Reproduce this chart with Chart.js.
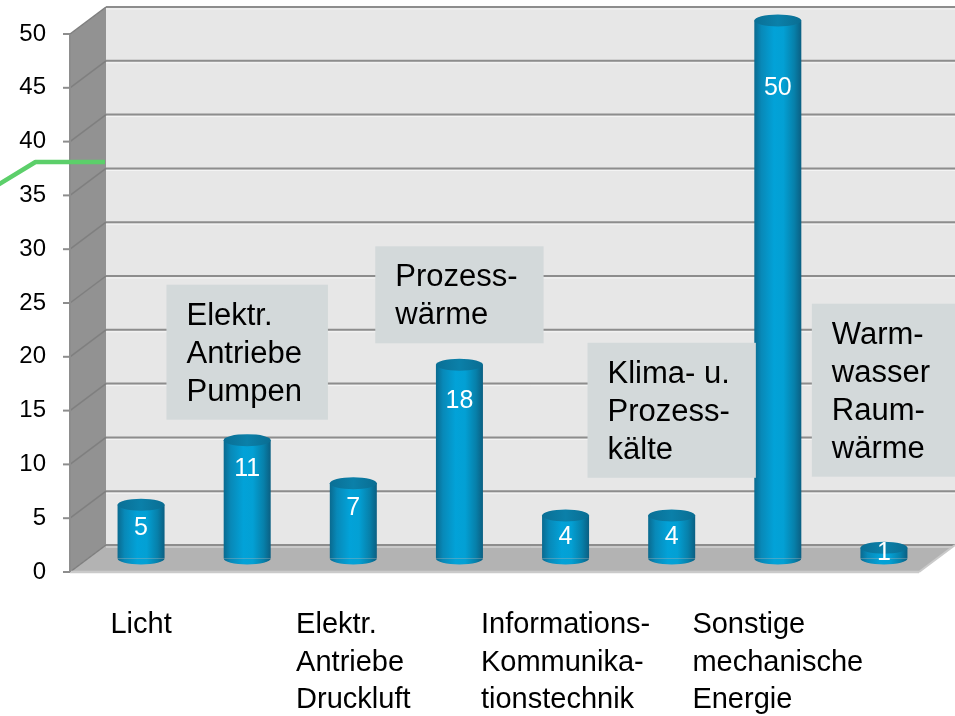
<!DOCTYPE html>
<html>
<head>
<meta charset="utf-8">
<script src="https://cdn.jsdelivr.net/npm/chart.js@4/dist/chart.umd.min.js"></script>
<style>
html,body{margin:0;padding:0;background:#ffffff;}
#wrap{width:955px;height:716px;position:relative;}
</style>
</head>
<body>
<div id="wrap"><canvas id="c" width="955" height="716"></canvas></div>
<script>
// ---------- data ----------
const categories = ['Licht', 'Elektr. Antriebe Pumpen', 'Elektr. Antriebe Druckluft', 'Prozesswärme',
  'Informations- Kommunikationstechnik', 'Klima- u. Prozesskälte', 'Sonstige mechanische Energie', 'Warmwasser Raumwärme'];
const categoryLines = [
  ['Licht'],
  ['Elektr.', 'Antriebe', 'Pumpen'],
  ['Elektr.', 'Antriebe', 'Druckluft'],
  ['Prozess-', 'wärme'],
  ['Informations-', 'Kommunika-', 'tionstechnik'],
  ['Klima- u.', 'Prozess-', 'kälte'],
  ['Sonstige', 'mechanische', 'Energie'],
  ['Warm-', 'wasser', 'Raum-', 'wärme']
];
const shares = [5, 11, 7, 18, 4, 4, 50, 1];
const labelPlacement = ['axis', 'box', 'axis', 'box', 'axis', 'box', 'axis', 'box'];
const boxBottomValues = [null, 12.9, null, 20.0, null, 7.5, null, 7.6];
const yMin = 0, yMax = 50, yStep = 5;
// stray green line at the upper left (x in category-index units, y in axis units)
const greenX = [-1.42, -0.995, -0.34];
const greenY = [34.3, 36.85, 36.85];

// ---------- styling ----------
const FONT = '"Liberation Sans", Arial, sans-serif';
const DX = 18, DY = 13.5;      // half-depth offsets of the 3D frame
const RY = 6;                  // ellipse radius of cylinder caps
const BAR_PCT = 0.443;

function poly(ctx, pts, fill) {
  ctx.beginPath();
  ctx.moveTo(pts[0][0], pts[0][1]);
  for (let i = 1; i < pts.length; i++) ctx.lineTo(pts[i][0], pts[i][1]);
  ctx.closePath();
  ctx.fillStyle = fill;
  ctx.fill();
}
function line(ctx, x1, y1, x2, y2, color, w) {
  ctx.beginPath();
  ctx.moveTo(x1, y1); ctx.lineTo(x2, y2);
  ctx.strokeStyle = color; ctx.lineWidth = w;
  ctx.stroke();
}
function cylGradient(ctx, x, w) {
  const g = ctx.createLinearGradient(x - w / 2, 0, x + w / 2, 0);
  g.addColorStop(0, '#0a6a8f');
  g.addColorStop(0.15, '#0889b8');
  g.addColorStop(0.42, '#02a2d8');
  g.addColorStop(0.62, '#03a0d4');
  g.addColorStop(0.85, '#0780aa');
  g.addColorStop(1, '#0b5f82');
  return g;
}
function barFill(c) {
  const chart = c.chart;
  const xs = chart.scales && chart.scales.x;
  if (c.type !== 'data' || !xs || !chart.chartArea) return '#03a0d5';
  const x = xs.getPixelForValue(c.dataIndex);
  const w = (xs.getPixelForValue(1) - xs.getPixelForValue(0)) * BAR_PCT;
  return cylGradient(chart.ctx, x, w);
}

const scene3d = {
  id: 'scene3d',
  beforeDraw(chart) {
    const {ctx, chartArea: a} = chart;
    const y = chart.scales.y;
    const y0 = y.getPixelForValue(yMin), yT = y.getPixelForValue(yMax);
    const fl = a.left - DX, bl = a.left + DX, fr = a.right - DX, br = a.right + DX;
    ctx.save();
    ctx.fillStyle = '#e7e7e7';
    ctx.fillRect(bl, yT - DY, br - bl, y0 - yT);
    poly(ctx, [[fl, yT + DY], [bl, yT - DY], [bl, y0 - DY], [fl, y0 + DY]], '#929292');
    poly(ctx, [[fl, y0 + DY], [bl, y0 - DY], [br, y0 - DY], [fr, y0 + DY]], '#b3b3b3');
    y.ticks.forEach(t => {
      const p = y.getPixelForValue(t.value);
      line(ctx, bl, p - DY + 2, br, p - DY + 2, 'rgba(255,255,255,0.6)', 1);
      line(ctx, bl, p - DY, br, p - DY, '#8d8d8d', 2);
      line(ctx, fl, p + DY, bl, p - DY, '#7f7f7f', 1.5);
      line(ctx, fl - 7, p + DY, fl, p + DY, '#8d8d8d', 2);
    });
    line(ctx, fl, y0 + DY, fr, y0 + DY, '#cacaca', 2.5);
    line(ctx, fr, y0 + DY, br, y0 - DY, '#cacaca', 2);
    line(ctx, fl, yT + DY, fl, y0 + DY, '#8d8d8d', 2);
    ctx.restore();
  },
  beforeDatasetsDraw(chart) {
    const {ctx} = chart;
    const meta = chart.getDatasetMeta(0);
    ctx.save();
    meta.data.forEach(el => {
      const {x, base, width} = el.getProps(['x', 'base', 'width'], true);
      ctx.beginPath();
      ctx.ellipse(x, base, width / 2, RY, 0, 0, Math.PI);
      ctx.fillStyle = el.options.backgroundColor;
      ctx.fill();
    });
    ctx.restore();
  },
  afterDatasetsDraw(chart) {
    const {ctx} = chart;
    const meta = chart.getDatasetMeta(0);
    const xs = chart.scales.x, y = chart.scales.y;
    ctx.save();
    // green line
    ctx.beginPath();
    greenX.forEach((gx, i) => {
      const px = xs.getPixelForValue(gx), py = y.getPixelForValue(greenY[i]);
      if (i === 0) ctx.moveTo(px, py); else ctx.lineTo(px, py);
    });
    ctx.strokeStyle = '#5ccf6a';
    ctx.lineWidth = 4.5;
    ctx.lineJoin = 'round';
    ctx.stroke();

    meta.data.forEach((el, i) => {
      const {x, y: top, base, width} = el.getProps(['x', 'y', 'base', 'width'], true);
      const g = ctx.createLinearGradient(x - width / 2, 0, x + width / 2, 0);
      g.addColorStop(0, '#0a6f95');
      g.addColorStop(0.5, '#0b80a9');
      g.addColorStop(1, '#0a6d92');
      ctx.beginPath();
      ctx.ellipse(x, top, width / 2, RY, 0, 0, Math.PI * 2);
      ctx.fillStyle = g;
      ctx.fill();
      const v = shares[i];
      const off = Math.min(18 + v, (base - top) / 2);
      ctx.font = '25px ' + FONT;
      ctx.fillStyle = '#ffffff';
      ctx.textAlign = 'center';
      ctx.textBaseline = 'middle';
      ctx.fillText(String(v), x, top + off);
    });
    const floorFront = y.getPixelForValue(yMin) + DY;
    categoryLines.forEach((lines, i) => {
      const cx = xs.getPixelForValue(i);
      if (labelPlacement[i] === 'axis') {
        ctx.font = '29px ' + FONT;
        const w = Math.max(...lines.map(s => ctx.measureText(s).width));
        ctx.fillStyle = '#000000';
        ctx.textAlign = 'left';
        ctx.textBaseline = 'alphabetic';
        lines.forEach((s, k) => ctx.fillText(s, cx - w / 2, floorFront + 61 + k * 37.5));
      } else {
        ctx.font = '31px ' + FONT;
        const w = Math.max(...lines.map(s => ctx.measureText(s).width));
        const bw = w + 46, bh = 21 + 38 * lines.length;
        const bottom = y.getPixelForValue(boxBottomValues[i]);
        const top = bottom - bh;
        const left = cx - bw / 2;
        ctx.fillStyle = '#d3d9da';
        ctx.fillRect(left, top, bw, bh);
        ctx.fillStyle = '#000000';
        ctx.textAlign = 'left';
        ctx.textBaseline = 'alphabetic';
        lines.forEach((s, k) => ctx.fillText(s, left + 20, top + 40 + k * 38));
      }
    });
    ctx.restore();
  }
};

new Chart(document.getElementById('c'), {
  type: 'bar',
  data: {
    labels: categories,
    datasets: [
      {
        label: 'Anteil',
        data: shares,
        backgroundColor: barFill,
        borderWidth: 0,
        categoryPercentage: 1,
        barPercentage: BAR_PCT
      }
    ]
  },
  options: {
    responsive: false,
    animation: false,
    events: [],
    layout: {padding: {top: 20.5, right: 18, bottom: 0, left: 0}},
    plugins: {legend: {display: false}, tooltip: {enabled: false}},
    scales: {
      x: {
        type: 'category',
        grid: {display: false, drawTicks: false},
        border: {display: false},
        ticks: {display: false},
        afterFit(s) { s.height = 157.5; }
      },
      y: {
        type: 'linear',
        min: yMin,
        max: yMax,
        grid: {display: false, drawTicks: true, tickLength: 42},
        border: {display: false},
        ticks: {
          stepSize: yStep,
          padding: 0,
          labelOffset: DY,
          color: '#000000',
          font: {family: FONT, size: 24}
        },
        afterFit(s) { s.width = 88; s.paddingTop = 0; s.paddingBottom = 0; }
      }
    }
  },
  plugins: [scene3d]
});
</script>
</body>
</html>
